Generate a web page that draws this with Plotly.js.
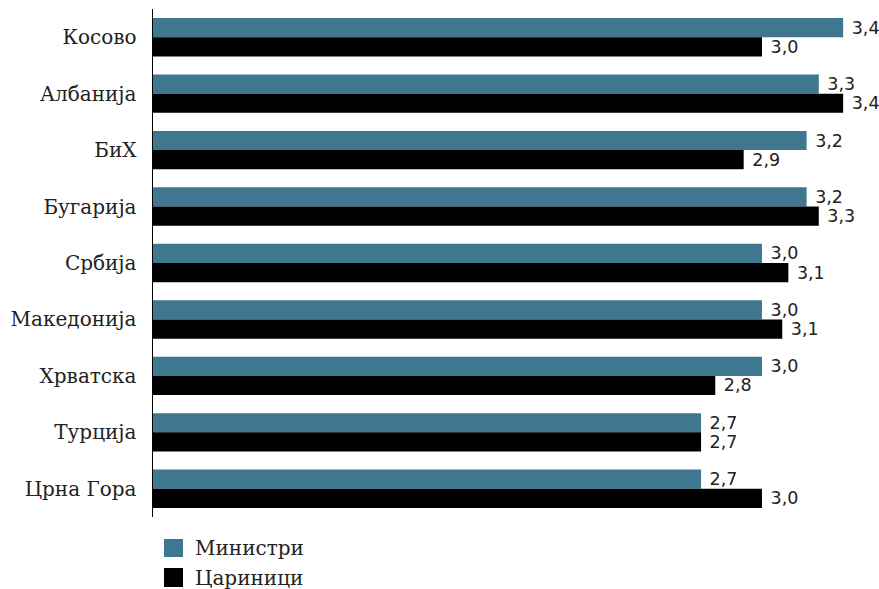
<!DOCTYPE html>
<html>
<head>
<meta charset="utf-8">
<script src="https://cdn.plot.ly/plotly-3.0.1.min.js"></script>
<style>html,body{margin:0;padding:0;background:#fff;}#chart{width:879px;height:589px;}</style>
</head>
<body>
<div id="chart"></div>
<script>
const categories = ["Косово","Албанија","БиХ","Бугарија","Србија","Македонија","Хрватска","Турција","Црна Гора"];
const ministriValues = [3.40, 3.28, 3.22, 3.22, 3.00, 3.00, 3.00, 2.70, 2.70];
const ministriLabels = ["3,4","3,3","3,2","3,2","3,0","3,0","3,0","2,7","2,7"];
const carinniciValues = [3.00, 3.40, 2.91, 3.28, 3.13, 3.10, 2.77, 2.70, 3.00];
const carinniciLabels = ["3,0","3,4","2,9","3,3","3,1","3,1","2,8","2,7","3,0"];
const seriesNames = ["Министри","Цариници"];
const seriesColors = ["#3f7690","#000000"];

const labelFont = {family:"'DejaVu Sans', sans-serif", size:17.5, color:"#222"};
const traces = [
  {type:"bar", orientation:"h", name:seriesNames[0], y:categories, x:ministriValues,
   text:ministriLabels.map(t=>" "+t), textposition:"outside", textfont:labelFont,
   marker:{color:seriesColors[0]}, cliponaxis:false, constraintext:"none", hoverinfo:"skip"},
  {type:"bar", orientation:"h", name:seriesNames[1], y:categories, x:carinniciValues,
   text:carinniciLabels.map(t=>" "+t), textposition:"outside", textfont:labelFont,
   marker:{color:seriesColors[1]}, cliponaxis:false, constraintext:"none", hoverinfo:"skip"}
];

const serifFont = {family:"'DejaVu Serif', serif", size:20, color:"#222"};
const layout = {
  width:879, height:589,
  margin:{l:153, r:5, t:9, b:72},
  paper_bgcolor:"#fff", plot_bgcolor:"#fff",
  barmode:"group", bargap:0.32, bargroupgap:0,
  showlegend:false,
  font:{family:"'DejaVu Serif', serif", color:"#222"},
  xaxis:{range:[0,3.552], visible:false, fixedrange:true},
  yaxis:{autorange:"reversed", showline:true, linecolor:"#000", linewidth:1.5,
         ticks:"", showgrid:false, zeroline:false, ticklabelstandoff:11,
         tickfont:serifFont},
  shapes:[
    {type:"rect", xref:"paper", yref:"paper", x0:11/721, x1:30/721, y0:-(539-517)/508, y1:-(557-517)/508,
     fillcolor:seriesColors[0], line:{width:0}},
    {type:"rect", xref:"paper", yref:"paper", x0:11/721, x1:30/721, y0:-(568-517)/508, y1:-(587-517)/508,
     fillcolor:seriesColors[1], line:{width:0}}
  ],
  annotations:[
    {xref:"paper", yref:"paper", x:40/721, y:-(548-517)/508, xanchor:"left", yanchor:"middle",
     text:seriesNames[0], showarrow:false, font:serifFont},
    {xref:"paper", yref:"paper", x:40/721, y:-(578-517)/508, xanchor:"left", yanchor:"middle",
     text:seriesNames[1], showarrow:false, font:serifFont}
  ]
};
Plotly.newPlot("chart", traces, layout, {displayModeBar:false, staticPlot:true});
</script>
</body>
</html>
